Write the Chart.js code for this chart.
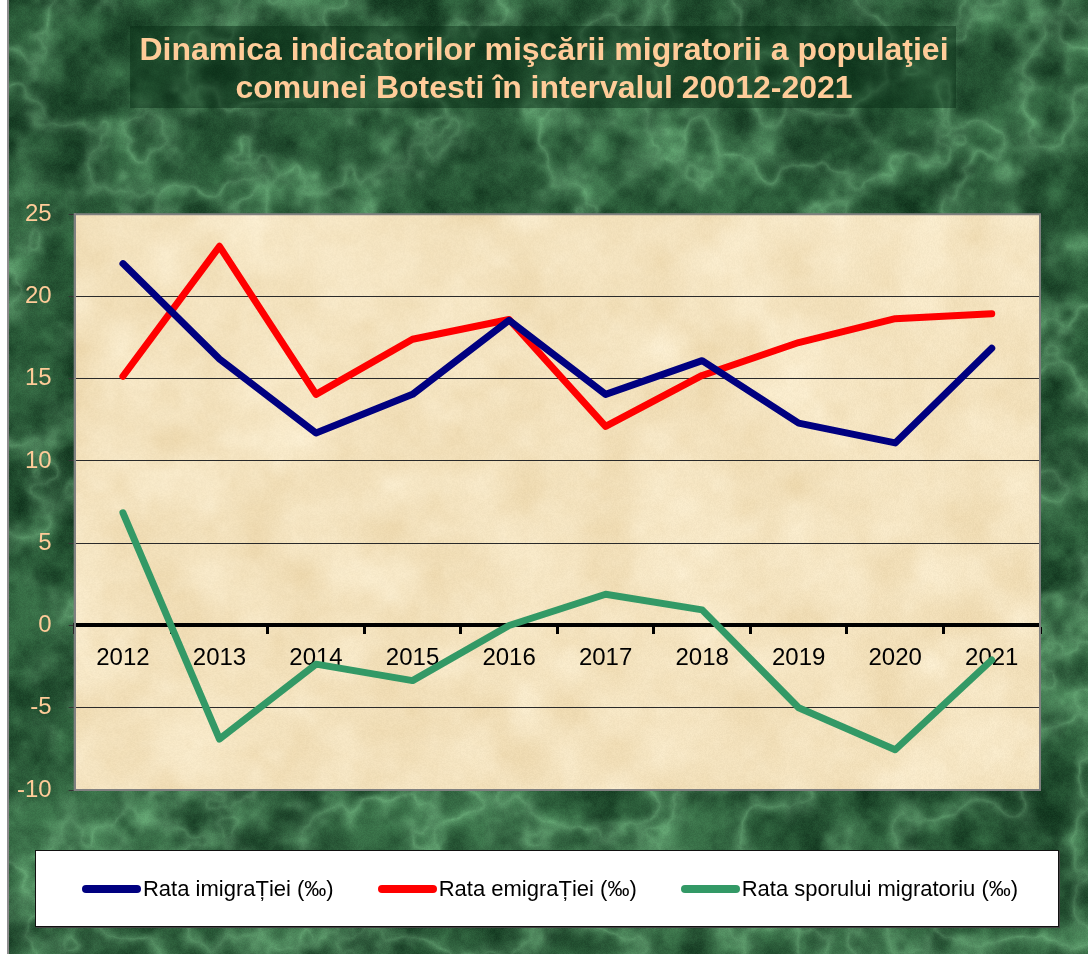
<!DOCTYPE html>
<html lang="ro">
<head>
  <meta charset="UTF-8">
  <title>Dinamica indicatorilor mişcării migratorii</title>
  <script src="https://cdn.jsdelivr.net/npm/chart.js"></script>
  <style>
    body { margin: 0; background: #fff; }
    #wrap { position: relative; width: 1088px; height: 954px; }
    #legend {
      position: absolute; left: 35px; top: 850px; width: 1024px; height: 77px;
      background: #fff; border: 1px solid #111; box-shadow: 1px 1px 0 #444;
      display: flex; align-items: center; justify-content: center; gap: 44px;
      font-family: "Liberation Sans", Arial, sans-serif; font-size: 22px; color: #000;
      padding-left: 6px; box-sizing: border-box;
    }
    .item { display: flex; align-items: center; gap: 2px; white-space: nowrap; }
    .swatch { width: 59px; height: 8px; border-radius: 4px; flex: none; }
  </style>
</head>
<body>
  <div id="wrap">
    <canvas id="chart" width="1088" height="954"></canvas>
    <div id="legend"></div>
  </div>

  <script>
    // data (‰)
    const years = ['2012', '2013', '2014', '2015', '2016', '2017', '2018', '2019', '2020', '2021'];
    const rataImigratiei = [22.0, 16.2, 11.7, 14.05, 18.55, 14.05, 16.1, 12.3, 11.1, 16.85];
    const rataEmigratiei = [15.15, 23.05, 14.05, 17.4, 18.6, 12.1, 15.2, 17.2, 18.65, 18.95];
    const rataSporului = [6.85, -6.9, -2.35, -3.35, 0, 1.9, 0.95, -5.0, -7.55, -2.1];
    const seriesNames = ['Rata imigraȚiei (‰)', 'Rata emigraȚiei (‰)', 'Rata sporului migratoriu (‰)'];
    const seriesColors = ['#000080', '#FF0000', '#339966'];
    const yTicks = { min: -10, max: 25, step: 5 };

    const FONT = '"Liberation Sans", Arial, sans-serif';

    // --- textures (deterministic hash noise, only decoration) ---
    function hash(x, y) {
      let h = (Math.imul(x, 374761393) + Math.imul(y, 668265263)) | 0;
      h = Math.imul(h ^ (h >>> 13), 1274126177);
      h ^= h >>> 16;
      return (h >>> 0) / 4294967296;
    }
    function vnoise(x, y) {
      const ix = Math.floor(x), iy = Math.floor(y);
      let fx = x - ix, fy = y - iy;
      fx = fx * fx * (3 - 2 * fx); fy = fy * fy * (3 - 2 * fy);
      const a = hash(ix, iy), b = hash(ix + 1, iy), c = hash(ix, iy + 1), d = hash(ix + 1, iy + 1);
      return a + (b - a) * fx + (c - a) * fy + (a - b - c + d) * fx * fy;
    }
    function fbm(x, y) {
      let s = 0, amp = 0.5, f = 1;
      for (let o = 0; o < 4; o++) { s += amp * vnoise(x * f, y * f); f *= 2; amp *= 0.5; }
      return s / 0.9375;
    }

    function makeMarble(w, h) {
      const cv = document.createElement('canvas');
      cv.width = w; cv.height = h;
      const c = cv.getContext('2d');
      const img = c.createImageData(w, h);
      const d = img.data;
      for (let y = 0; y < h; y++) {
        for (let x = 0; x < w; x++) {
          const n = fbm(x / 24, y / 24);
          const big = fbm(x / 120 + 20, y / 120 + 7);
          const r = 1 - Math.abs(2 * fbm(x / 70 + 3, y / 70 + 41) - 1);
          const vein = Math.pow(r, 6);
          const m = Math.min(1, Math.max(0, (n * 0.6 + big * 0.4 - 0.3) / 0.45));
          const g = (hash(x + 999, y) - 0.5) * 12;
          const i = (y * w + x) * 4;
          d[i] = 18 + 36 * m + 45 * vein + g * 0.5;
          d[i + 1] = 55 + 54 * m + 55 * vein + g;
          d[i + 2] = 31 + 38 * m + 45 * vein + g * 0.6;
          d[i + 3] = 255;
        }
      }
      c.putImageData(img, 0, 0);
      return cv;
    }

    function makeParchment(w, h) {
      const cv = document.createElement('canvas');
      cv.width = w; cv.height = h;
      const c = cv.getContext('2d');
      const img = c.createImageData(w, h);
      const d = img.data;
      for (let y = 0; y < h; y++) {
        for (let x = 0; x < w; x++) {
          const n = fbm(x / 45 + 50, y / 45 + 3);
          const g = (hash(x, y + 777) - 0.5) * 8;
          const i = (y * w + x) * 4;
          d[i] = 236 + 16 * n + g;
          d[i + 1] = 214 + 26 * n + g;
          d[i + 2] = 170 + 42 * n + g;
          d[i + 3] = 255;
        }
      }
      c.putImageData(img, 0, 0);
      return cv;
    }

    const marble = makeMarble(1088, 954);
    let parchment = null;

    const backdrop = {
      id: 'backdrop',
      beforeDraw(chart) {
        const { ctx, chartArea: a } = chart;
        ctx.save();
        ctx.fillStyle = '#fff';
        ctx.fillRect(0, 0, chart.width, chart.height);
        ctx.drawImage(marble, 9, 0, chart.width - 9, chart.height, 9, 0, chart.width - 9, chart.height);
        ctx.fillStyle = '#8c8c8c';
        ctx.fillRect(7, 0, 2, chart.height);
        // title panel
        ctx.fillStyle = 'rgba(5, 40, 18, 0.45)';
        ctx.fillRect(130, 26, 826, 82);
        // plot area
        if (!parchment) parchment = makeParchment(Math.round(a.width), Math.round(a.height));
        ctx.drawImage(parchment, a.left, a.top, a.width, a.height);
        ctx.restore();
      },
      beforeDatasetsDraw(chart) {
        const { ctx, chartArea: a } = chart;
        ctx.save();
        ctx.strokeStyle = '#808080';
        ctx.lineWidth = 2;
        ctx.strokeRect(a.left, a.top, a.width, a.height);
        ctx.restore();
      }
    };

    const chart = new Chart(document.getElementById('chart'), {
      type: 'line',
      data: {
        labels: years,
        datasets: [rataImigratiei, rataEmigratiei, rataSporului].map((vals, i) => ({
          label: seriesNames[i],
          data: vals,
          borderColor: seriesColors[i],
          backgroundColor: seriesColors[i],
          borderWidth: 7,
          pointRadius: 0,
          tension: 0,
          borderCapStyle: 'round',
          borderJoinStyle: 'round'
        }))
      },
      options: {
        responsive: false,
        animation: false,
        devicePixelRatio: 1,
        layout: { padding: { left: 0, right: 0, top: 0, bottom: 164 } },
        plugins: {
          legend: { display: false },
          tooltip: { enabled: false },
          title: {
            display: true,
            text: ['Dinamica indicatorilor mişcării migratorii a populaţiei',
                   'comunei Botesti în intervalul 20012-2021'],
            color: '#FFCC99',
            font: { family: FONT, size: 32, weight: 'bold', lineHeight: 1.16 },
            padding: { top: 33, bottom: 107 }
          }
        },
        scales: {
          x: {
            type: 'category',
            position: { y: 0 },
            offset: true,
            grid: {
              offset: true,
              drawOnChartArea: false,
              drawTicks: true,
              tickLength: 7,
              tickWidth: 3,
              tickColor: '#000'
            },
            border: { display: true, color: '#000', width: 4 },
            ticks: {
              color: '#000',
              font: { family: FONT, size: 24 },
              padding: 11,
              maxRotation: 0,
              autoSkip: false
            }
          },
          y: {
            min: yTicks.min,
            max: yTicks.max,
            grid: {
              color: ctx => (ctx.tick && (ctx.tick.value === yTicks.max || ctx.tick.value === yTicks.min)) ? 'rgba(0,0,0,0)' : '#2a2a2a',
              lineWidth: 1,
              tickLength: 6,
              tickColor: '#333'
            },
            border: { display: true, color: '#808080', width: 2 },
            ticks: {
              stepSize: yTicks.step,
              color: '#FFCC99',
              font: { family: FONT, size: 24 },
              padding: 17
            }
          },
          // empty right margin so the plot ends at the same place as in the original
          yRight: {
            type: 'linear',
            position: 'right',
            afterFit: s => { s.width = 48; },
            ticks: { display: false },
            grid: { drawOnChartArea: false, drawTicks: false },
            border: { display: false }
          }
        }
      },
      plugins: [backdrop]
    });

    // legend box built from the chart's datasets
    const legend = document.getElementById('legend');
    chart.data.datasets.forEach(ds => {
      const item = document.createElement('div');
      item.className = 'item';
      item.innerHTML = `<span class="swatch" style="background:${ds.borderColor}"></span><span>${ds.label}</span>`;
      legend.appendChild(item);
    });
  </script>
</body>
</html>
